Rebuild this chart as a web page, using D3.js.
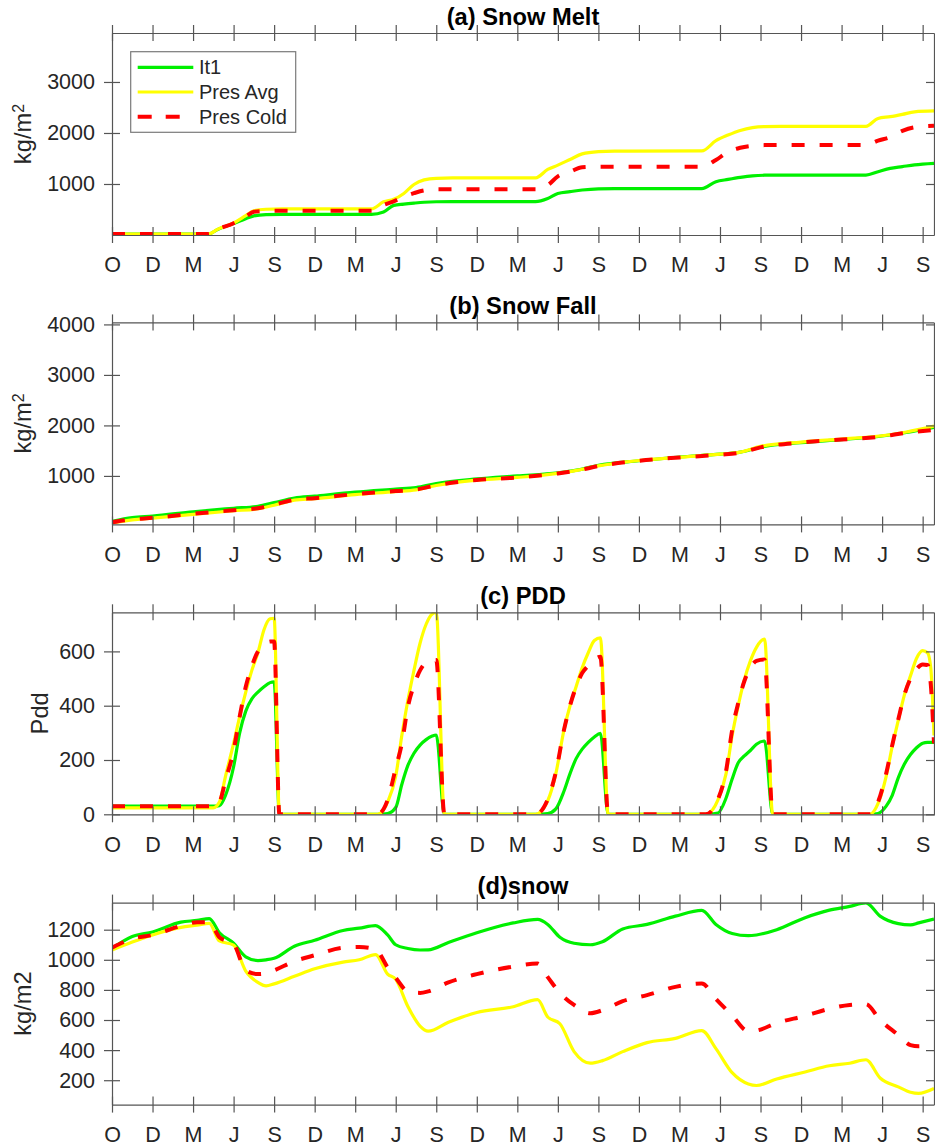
<!DOCTYPE html>
<html>
<head>
<meta charset="utf-8">
<script src="https://cdn.jsdelivr.net/npm/d3@7"></script>
<style>
  body { margin: 0; background: #fff; }
  svg { display: block; }
</style>
</head>
<body>
<svg id="chart" width="935" height="1146"></svg>
<script>
// x is measured in quarter-year ticks from the first October
const xTicks = [0, 1, 2, 3, 4, 5, 6, 7, 8, 9, 10, 11, 12, 13, 14, 15, 16, 17, 18, 19, 20];
const xTickLabels = ['O', 'D', 'M', 'J', 'S', 'D', 'M', 'J', 'S', 'D', 'M', 'J', 'S', 'D', 'M', 'J', 'S', 'D', 'M', 'J', 'S'];
const xEnd = 20.28;

const seriesNames = ['It1', 'Pres Avg', 'Pres Cold'];

// (a) snow melt
const tA = [0, 2.38, 2.6, 3.0, 3.3, 3.5, 3.8, 4.2, 6.4, 6.7, 6.95, 7.2, 7.45, 7.7, 8.0, 8.4,
  10.45, 10.75, 11.0, 11.3, 11.6, 12.0, 12.4, 14.55, 14.9, 15.2, 15.5, 15.8, 16.1, 16.5,
  18.6, 18.9, 19.2, 19.5, 19.8, 20.28];
const meltIt1 = [20, 20, 105, 225, 320, 375, 400, 405, 405, 450, 580, 605, 625, 642, 652, 655,
  655, 715, 815, 850, 882, 905, 910, 910, 1045, 1090, 1130, 1160, 1172, 1175,
  1175, 1240, 1305, 1340, 1375, 1405];
const meltAvg = [20, 20, 110, 235, 380, 475, 505, 512, 512, 650, 700, 815, 990, 1080, 1112, 1118,
  1120, 1285, 1370, 1480, 1590, 1635, 1645, 1648, 1850, 1960, 2050, 2105, 2125, 2128,
  2130, 2285, 2320, 2365, 2415, 2432];
const meltCold = [20, 20, 110, 230, 360, 455, 472, 475, 475, 590, 660, 750, 820, 875, 896, 896,
  896, 975, 1150, 1240, 1330, 1340, 1340, 1340, 1470, 1630, 1710, 1750, 1762, 1765,
  1765, 1850, 1920, 2040, 2110, 2140];
const yTicksA = [1000, 2000, 3000];

// (b) snow fall
const tB = [0, 0.5, 1, 2, 3, 3.6, 4, 4.5, 5, 6, 7, 7.5, 8, 9, 10, 11, 11.5, 12, 13, 14,
  15, 15.5, 16, 17, 18, 19, 19.6, 20.28];
const fallIt1 = [100, 175, 205, 290, 360, 400, 470, 560, 600, 680, 740, 770, 850, 940, 1000, 1060, 1120, 1210, 1300, 1375,
  1430, 1470, 1570, 1660, 1720, 1790, 1860, 1960];
const fallAvg = [70, 130, 165, 240, 310, 350, 420, 520, 550, 630, 690, 725, 810, 915, 970, 1050, 1115, 1200, 1305, 1370,
  1430, 1470, 1585, 1670, 1730, 1795, 1870, 1985];
const fallCold = [80, 140, 170, 250, 320, 360, 430, 530, 560, 640, 700, 730, 815, 920, 970, 1050, 1110, 1195, 1300, 1365,
  1420, 1460, 1565, 1660, 1720, 1780, 1855, 1910];
const yTicksB = [1000, 2000, 3000, 4000];

// (c) PDD
const tC = [0, 2.5, 2.65, 2.8, 3.0, 3.15, 3.3, 3.45, 3.6, 3.75, 3.9, 4.0, 4.13,
  6.55, 6.8, 7.0, 7.15, 7.3, 7.45, 7.6, 7.75, 7.9, 8.0, 8.2,
  10.45, 10.75, 10.95, 11.15, 11.3, 11.45, 11.6, 11.75, 11.9, 12.05, 12.24,
  14.65, 14.95, 15.15, 15.3, 15.45, 15.6, 15.75, 15.9, 16.1, 16.3,
  18.7, 18.9, 19.1, 19.25, 19.4, 19.55, 19.7, 19.85, 20.0, 20.12, 20.2, 20.28];
const pddIt1 = [30, 30, 32, 70, 175, 300, 380, 425, 450, 470, 485, 488, 0,
  0, 3, 25, 110, 180, 225, 255, 275, 288, 292, 0,
  0, 3, 20, 85, 150, 205, 240, 265, 285, 298, 0,
  0, 5, 60, 130, 190, 215, 235, 258, 270, 0,
  0, 3, 30, 70, 135, 185, 220, 245, 262, 265, 265, 265];
const pddAvg = [24, 24, 45, 140, 261, 360, 450, 530, 595, 680, 720, 722, 0,
  0, 45, 140, 290, 420, 530, 630, 700, 738, 744, 0,
  0, 50, 150, 310, 400, 470, 540, 595, 640, 650, 0,
  0, 53, 150, 290, 400, 495, 565, 615, 645, 0,
  0, 40, 140, 250, 347, 440, 510, 575, 603, 595, 540, 290];
const pddCold = [30, 30, 45, 125, 235, 360, 470, 545, 600, 622, 636, 636, 0,
  0, 53, 170, 260, 396, 475, 530, 560, 568, 568, 0,
  0, 55, 155, 310, 400, 470, 520, 548, 570, 580, 0,
  0, 55, 160, 310, 410, 490, 540, 565, 570, 0,
  0, 45, 150, 255, 350, 440, 500, 535, 552, 550, 480, 261];
const yTicksC = [0, 200, 400, 600];

// (d) snow
const tD = [0, 0.5, 1, 1.7, 2.1, 2.4, 2.65, 3.0, 3.3, 3.6, 3.8, 4.0, 4.5, 5.0, 5.7, 6.1, 6.5, 6.8, 7.0, 7.3,
  7.6, 7.8, 8.3, 9.0, 9.9, 10.5, 10.75, 11.05, 11.4, 11.8, 12.1, 12.6, 13.2, 13.9, 14.55, 14.9, 15.3, 15.7, 15.9, 16.4,
  17.1, 17.7, 18.2, 18.6, 18.95, 19.4, 19.7, 19.9, 20.28];
const snowIt1 = [1076, 1155, 1185, 1250, 1262, 1274, 1180, 1110, 1020, 995, 1000, 1010, 1090, 1130, 1195, 1210, 1227, 1165, 1100, 1075,
  1065, 1066, 1115, 1180, 1245, 1268, 1235, 1150, 1110, 1100, 1120, 1205, 1235, 1290, 1328, 1235, 1175, 1160, 1165, 1200,
  1280, 1330, 1355, 1378, 1290, 1240, 1232, 1245, 1271];
const snowAvg = [1065, 1118, 1165, 1215, 1230, 1242, 1125, 1098, 925, 850, 827, 840, 890, 940, 985, 1000, 1035, 905, 870, 690,
  560, 526, 585, 650, 688, 735, 620, 575, 390, 313, 330, 390, 450, 478, 530, 410, 250, 175, 165, 208,
  255, 296, 313, 336, 215, 156, 120, 112, 145];
const snowCold = [1080, 1140, 1165, 1225, 1250, 1250, 1150, 1105, 930, 905, 910, 930, 990, 1030, 1080, 1085, 1070, 950, 880, 790,
  780, 790, 850, 905, 955, 975, 885, 780, 700, 645, 665, 725, 765, 820, 843, 740, 630, 526, 530, 580,
  628, 675, 700, 705, 600, 500, 433, 425, 444];
const yTicksD = [200, 400, 600, 800, 1000, 1200];

// styling
const font = '"Liberation Sans", Arial, Helvetica, sans-serif';
const seriesColors = ['#00f000', '#ffff00', '#ff0000'];
const seriesWidths = [3.2, 3.2, 4];
const seriesDash = [null, null, '13,15'];
const axisColor = '#555';
const textColor = '#262626';

const plotLeft = 112, plotRight = 934, plotHeight = 202, tickLen = 8;

const panels = [
  { title: '(a) Snow Melt', label: 'kg/m', sup: '2', labelX: 31, top: 33,
    t: tA, values: [meltIt1, meltAvg, meltCold], yDomain: [0, 3960], yTicks: yTicksA, legend: true },
  { title: '(b) Snow Fall', label: 'kg/m', sup: '2', labelX: 31, top: 322.4,
    t: tB, values: [fallIt1, fallAvg, fallCold], yDomain: [40, 4040], yTicks: yTicksB },
  { title: '(c) PDD', label: 'Pdd', labelX: 48, top: 612.3,
    t: tC, values: [pddIt1, pddAvg, pddCold], yDomain: [0, 744], yTicks: yTicksC },
  { title: '(d)snow', label: 'kg/m2', labelX: 31, top: 902.6,
    t: tD, values: [snowIt1, snowAvg, snowCold], yDomain: [38, 1380], yTicks: yTicksD }
];

const svg = d3.select('#chart');
const x = d3.scaleLinear().domain([0, xEnd]).range([plotLeft, plotRight]);

panels.forEach((p, i) => {
  const bottom = p.top + plotHeight;
  const y = d3.scaleLinear().domain(p.yDomain).range([bottom, p.top]);
  const g = svg.append('g');

  g.append('clipPath').attr('id', 'clip' + i)
    .append('rect')
    .attr('x', plotLeft).attr('y', p.top)
    .attr('width', plotRight - plotLeft).attr('height', plotHeight);

  const line = d3.line()
    .x((d, j) => x(p.t[j]))
    .y(d => y(d))
    .curve(d3.curveMonotoneX);

  p.values.forEach((vals, k) => {
    g.append('path')
      .datum(vals)
      .attr('clip-path', `url(#clip${i})`)
      .attr('fill', 'none')
      .attr('stroke', seriesColors[k])
      .attr('stroke-width', seriesWidths[k])
      .attr('stroke-dasharray', seriesDash[k])
      .attr('stroke-linejoin', 'round')
      .attr('d', line);
  });

  // box with ticks pointing both ways
  const xb = g.append('g')
    .attr('transform', `translate(0,${bottom})`)
    .call(d3.axisBottom(x).tickValues(xTicks).tickFormat((d, j) => xTickLabels[j])
      .tickSize(tickLen).tickSizeOuter(0).tickPadding(14));
  xb.selectAll('.tick line').attr('y1', -tickLen);

  const xt = g.append('g')
    .attr('transform', `translate(0,${p.top})`)
    .call(d3.axisTop(x).tickValues(xTicks).tickFormat('').tickSize(tickLen).tickSizeOuter(0));
  xt.selectAll('.tick line').attr('y1', tickLen);

  const yl = g.append('g')
    .attr('transform', `translate(${plotLeft},0)`)
    .call(d3.axisLeft(y).tickValues(p.yTicks).tickFormat(d3.format('d'))
      .tickSize(tickLen).tickSizeOuter(0).tickPadding(9));
  yl.selectAll('.tick line').attr('x1', tickLen);

  const yr = g.append('g')
    .attr('transform', `translate(${plotRight},0)`)
    .call(d3.axisRight(y).tickValues(p.yTicks).tickFormat('').tickSize(tickLen).tickSizeOuter(0));
  yr.selectAll('.tick line').attr('x1', -tickLen);

  g.selectAll('.domain, .tick line').attr('stroke', axisColor).attr('stroke-width', 1.2);
  [xb, yl].forEach(a => a.attr('font-family', font).attr('font-size', 21.5));
  g.selectAll('.tick text').attr('fill', textColor);

  // title
  g.append('text')
    .attr('x', (plotLeft + plotRight) / 2)
    .attr('y', p.top - 8.5)
    .attr('text-anchor', 'middle')
    .attr('font-family', font)
    .attr('font-weight', 'bold')
    .attr('font-size', 23.7)
    .attr('fill', '#000')
    .text(p.title);

  // y label
  const lab = g.append('text')
    .attr('transform', `translate(${p.labelX},${p.top + plotHeight / 2}) rotate(-90)`)
    .attr('text-anchor', 'middle')
    .attr('font-family', font)
    .attr('font-size', 23.7)
    .attr('fill', textColor);
  lab.append('tspan').text(p.label);
  if (p.sup) {
    lab.append('tspan').attr('dy', '-0.45em').attr('font-size', 16).text(p.sup);
  }

  if (p.legend) {
    const lg = g.append('g').attr('transform', 'translate(130.7,51.7)');
    lg.append('rect')
      .attr('width', 165).attr('height', 80.6)
      .attr('fill', '#fff').attr('stroke', '#7a7a7a').attr('stroke-width', 1.2);
    seriesNames.forEach((name, k) => {
      const ry = 15.6 + k * 24.7;
      lg.append('line')
        .attr('x1', 7).attr('x2', 62.6).attr('y1', ry).attr('y2', ry)
        .attr('stroke', seriesColors[k])
        .attr('stroke-width', seriesWidths[k])
        .attr('stroke-dasharray', k === 2 ? '14,14' : null);
      lg.append('text')
        .attr('x', 68.3).attr('y', ry).attr('dy', '0.35em')
        .attr('font-family', font).attr('font-size', 20)
        .attr('fill', textColor)
        .text(name);
    });
  }
});
</script>
</body>
</html>
